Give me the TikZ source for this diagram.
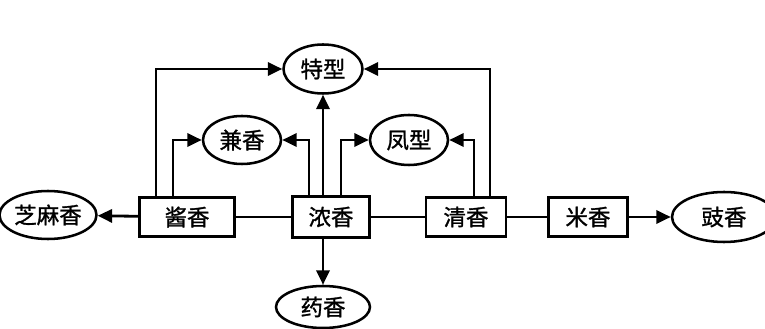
\documentclass[tikz,border=0pt]{standalone}
\usepackage{fontspec}
\usepackage{tikz}
\usetikzlibrary{arrows.meta,shapes.geometric,positioning}
\newfontfamily\cjk{Noto Sans CJK SC}[FakeBold=1.2]
\newcommand\LineW{2pt}
\tikzset{
  box/.style={
    shape = rectangle,
    draw,
    line width=\LineW,
    inner sep=0pt,
    minimum height=0.975cm,
    font=\cjk\fontsize{16}{19}\selectfont
  },
  oval/.style={
    shape = ellipse,
    draw,
    line width=1.8pt,
    inner sep=0pt,
    minimum height=1.2cm,
    font=\cjk\fontsize{16}{19}\selectfont
  },
  arr/.style={
    line width=\LineW,
    -{Triangle[length=0.36cm,width=0.33cm]}
  },
  link/.style={
    line width=\LineW
  }
}

\begin{document}
\begin{tikzpicture}
    \useasboundingbox (0,0) rectangle (19.125,8.225);
    % main row
    \node[box, minimum width=2.375cm] (jiang) at (4.675,2.8) {酱香};
    \node[box, minimum width=1.925cm, minimum height=1.025cm] (nong) at (8.275,2.8) {浓香};
    \node[box, minimum width=2.0cm] (qing) at (11.65,2.8) {清香};
    \node[box, minimum width=1.975cm] (mi) at (14.7,2.8) {米香};

    \node[oval, minimum width=2.425cm] (zhima) at (1.2,2.85) {芝麻香};
    \node[oval, minimum width=2.6cm, minimum height=1.25cm] (chi) at (18.1,2.8) {豉香};
    \node[oval, minimum width=2.35cm, minimum height=1.05cm] (yao) at (8.075,0.55) {药香};

    \node[oval, minimum width=1.975cm, minimum height=1.225cm] (texing) at (8.075,6.5) {特型};
    \node[oval, minimum width=1.95cm] (jianx) at (6.05,4.725) {兼香};
    \node[oval, minimum width=1.95cm, minimum height=1.25cm] (fengx) at (10.225,4.725) {凤型};

    \draw[link] (jiang) -- (nong);
    \draw[link] (nong) -- (qing);
    \draw[link] (qing) -- (mi);
    \draw[arr] (jiang) -- (zhima);
    \draw[arr] (mi) -- (chi);
    \draw[arr] (nong.south -| yao.north) -- (yao);

    % up to the top row
    \draw[arr] (nong.north -| texing.south) -- (texing);
    \draw[arr] ([xshift=-0.775cm]jiang.north) |- (texing.west);
    \draw[arr] ([xshift=0.6cm]qing.north) |- (texing.east);
    \draw[arr] ([xshift=-0.35cm]jiang.north) |- (jianx.west);
    \draw[arr] ([xshift=-0.55cm]nong.north) |- (jianx.east);
    \draw[arr] ([xshift=0.25cm]nong.north) |- (fengx.west);
    \draw[arr] ([xshift=0.2cm]qing.north) |- (fengx.east);
\end{tikzpicture}
\end{document}
